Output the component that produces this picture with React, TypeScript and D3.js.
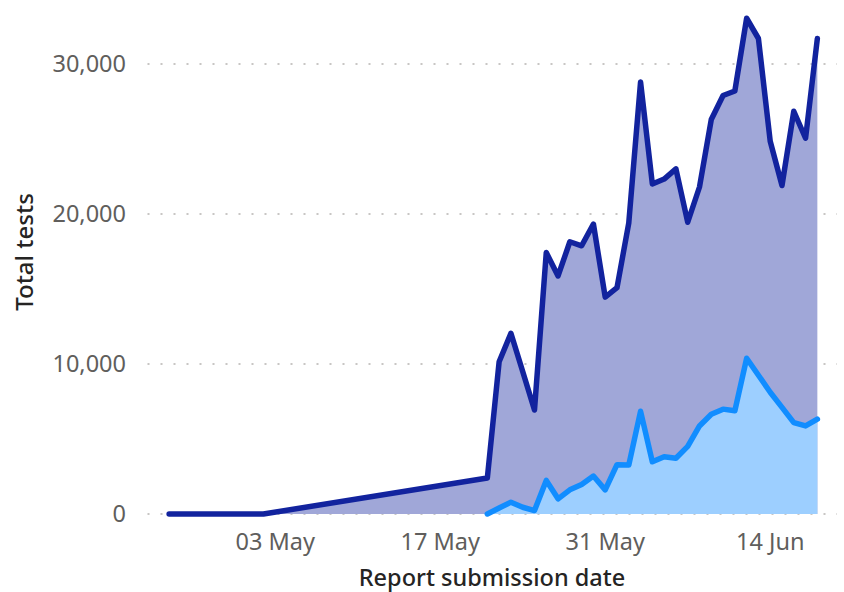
import React from "react";
import * as d3 from "d3";

// all tests (dark) – two early reports, then daily from 21 May
const allDates = [
  "2020-04-24", "2020-05-02",
  "2020-05-21", "2020-05-22", "2020-05-23", "2020-05-24", "2020-05-25", "2020-05-26",
  "2020-05-27", "2020-05-28", "2020-05-29", "2020-05-30", "2020-05-31", "2020-06-01",
  "2020-06-02", "2020-06-03", "2020-06-04", "2020-06-05", "2020-06-06", "2020-06-07",
  "2020-06-08", "2020-06-09", "2020-06-10", "2020-06-11", "2020-06-12", "2020-06-13",
  "2020-06-14", "2020-06-15", "2020-06-16", "2020-06-17", "2020-06-18",
];
const allTests = [
  0, 0,
  2400, 10150, 12050, 9500, 6930, 17430, 15870, 18150, 17880, 19330, 14460, 15090,
  19400, 28800, 22000, 22330, 23010, 19450, 21800, 26300, 27900, 28200, 33050, 31700,
  24850, 21900, 26850, 25050, 31700,
];

// second series (light) – daily from 21 May
const subDates = allDates.slice(2);
const subTests = [
  0, 400, 790, 450, 230, 2240, 1010, 1610, 1970, 2530, 1610, 3290, 3260, 6850, 3480,
  3820, 3720, 4510, 5870, 6650, 6990, 6880, 10380, 9250, 8120, 7110, 6090, 5870, 6320,
];

const xTicks = ["2020-05-03", "2020-05-17", "2020-05-31", "2020-06-14"];
const yTicks = [0, 10000, 20000, 30000];

const parse = (s: string) => {
  const [y, m, d] = s.split("-").map(Number);
  return new Date(y, m - 1, d);
};

const width = 844;
const height = 592;
const margin = { top: 4, right: 7, bottom: 78, left: 148 };

const font = "'Segoe UI', 'Noto Sans', sans-serif";

export default function App() {
  const x = d3
    .scaleTime()
    .domain([new Date(2020, 3, 22, 5), new Date(2020, 5, 19, 16)])
    .range([margin.left, width - margin.right]);

  const y = d3
    .scaleLinear()
    .domain([0, 34000])
    .range([height - margin.bottom, margin.top]);

  const dark = allDates.map((d, i) => ({ date: parse(d), value: allTests[i] }));
  const light = subDates.map((d, i) => ({ date: parse(d), value: subTests[i] }));

  const line = d3
    .line<{ date: Date; value: number }>()
    .x((d) => x(d.date))
    .y((d) => y(d.value));
  const area = d3
    .area<{ date: Date; value: number }>()
    .x((d) => x(d.date))
    .y0(y(0))
    .y1((d) => y(d.value));

  const fmt = d3.format(",");

  return (
    <svg
      width={width}
      height={height}
      style={{ position: "absolute", left: 0, top: 0, background: "#fff" }}
    >
      <g>
        {yTicks.map((t) => (
          <line
            key={t}
            x1={margin.left - 0.5}
            x2={width - margin.right}
            y1={y(t)}
            y2={y(t)}
            stroke="#C8C6C4"
            strokeWidth={2}
            strokeDasharray="2 11"
          />
        ))}
      </g>

      <path d={area(dark) ?? ""} fill="#A0A7D8" />
      <path d={area(light) ?? ""} fill="#9DCFFF" />
      <path
        d={line(dark) ?? ""}
        fill="none"
        stroke="#12239E"
        strokeWidth={5.5}
        strokeLinejoin="round"
        strokeLinecap="round"
      />
      <path
        d={line(light) ?? ""}
        fill="none"
        stroke="#118DFF"
        strokeWidth={5.5}
        strokeLinejoin="round"
        strokeLinecap="round"
      />

      <g fontFamily={font} fontSize={23.5} fill="#605E5C">
        {yTicks.map((t) => (
          <text key={t} x={126} y={y(t)} dy="0.35em" textAnchor="end">
            {fmt(t)}
          </text>
        ))}
        {xTicks.map((t) => (
          <text key={t} x={x(parse(t))} y={550} textAnchor="middle">
            {d3.timeFormat("%d %b")(parse(t))}
          </text>
        ))}
      </g>

      <text
        x={492}
        y={586}
        textAnchor="middle"
        fontFamily={font}
        fontSize={23.5}
        fontWeight={500}
        fill="#252423"
      >
        Report submission date
      </text>
      <text
        transform={`translate(33, ${(y(0) + y(34000)) / 2 - 7}) rotate(-90)`}
        textAnchor="middle"
        fontFamily={font}
        fontSize={24}
        fontWeight={500}
        fill="#252423"
      >
        Total tests
      </text>
    </svg>
  );
}
